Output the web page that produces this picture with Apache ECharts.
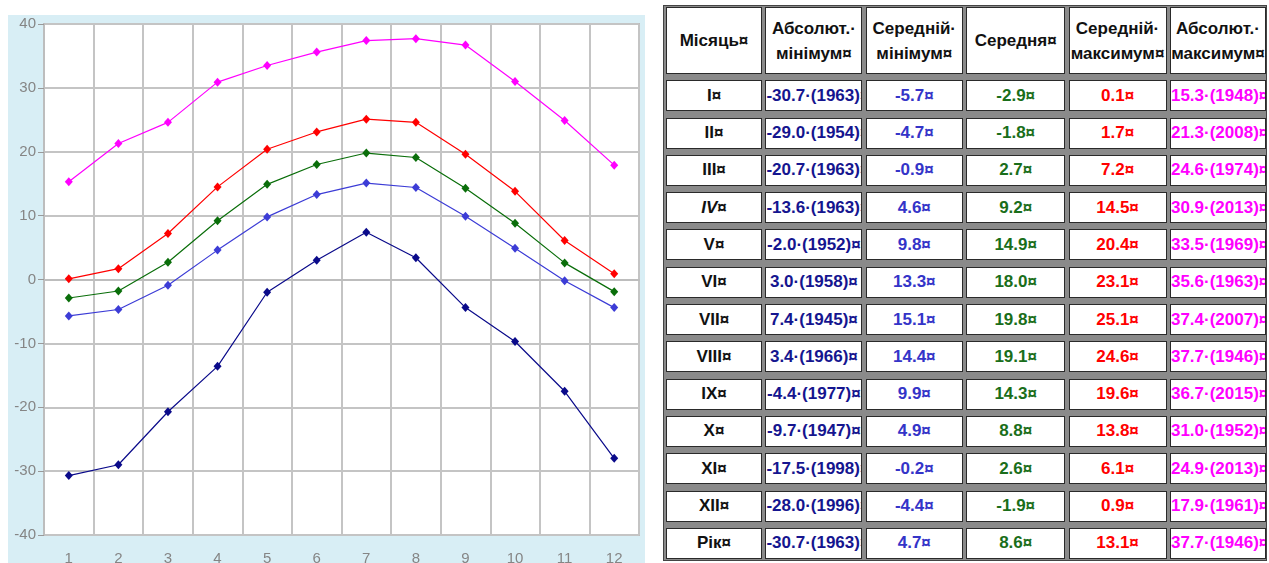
<!DOCTYPE html>
<html><head><meta charset="utf-8">
<script src="https://cdn.jsdelivr.net/npm/echarts@6/dist/echarts.min.js"></script>
<style>
html,body{margin:0;padding:0;background:#fff;width:1269px;height:563px;overflow:hidden;}
#chart{position:absolute;left:8px;top:15px;width:637px;height:548px;background:#d8eef5;}
#tbl{position:absolute;left:663px;top:5px;width:604px;height:556px;box-sizing:border-box;background:#8a8a8a;border:1px solid #444;padding:1px 0 0 2px;display:grid;grid-template-columns:96px 97px 97px 99px 98px 96px;column-gap:3.4px;grid-template-rows:67px repeat(13,31px);row-gap:6.3px;}
.c{background:#fff;border:1px solid #2a2a2a;box-sizing:border-box;display:flex;align-items:center;overflow:hidden;white-space:nowrap;font:bold 17px "Liberation Sans",Arial,sans-serif;}
.c span{margin:0 auto;text-align:center;}
.h{font-size:17px;line-height:25px;color:#111;}
</style></head><body>
<div id="chart"></div>
<div id="tbl"></div>
<script>
// ---- data ----
const months = ['1','2','3','4','5','6','7','8','9','10','11','12'];
const absMin = [-30.7,-29.0,-20.7,-13.6,-2.0,3.0,7.4,3.4,-4.4,-9.7,-17.5,-28.0];
const avgMin = [-5.7,-4.7,-0.9,4.6,9.8,13.3,15.1,14.4,9.9,4.9,-0.2,-4.4];
const avgT   = [-2.9,-1.8,2.7,9.2,14.9,18.0,19.8,19.1,14.3,8.8,2.6,-1.9];
const avgMax = [0.1,1.7,7.2,14.5,20.4,23.1,25.1,24.6,19.6,13.8,6.1,0.9];
const absMax = [15.3,21.3,24.6,30.9,33.5,35.6,37.4,37.7,36.7,31.0,24.9,17.9];
const absMinYears = [1963,1954,1963,1963,1952,1958,1945,1966,1977,1947,1998,1996];
const absMaxYears = [1948,2008,1974,2013,1969,1963,2007,1946,2015,1952,2013,1961];
const rowNames = ['I','II','III','IV','V','VI','VII','VIII','IX','X','XI','XII'];
const yearRow = {name:'Рік', absMin:-30.7, absMinYear:1963, avgMin:4.7, avg:8.6, avgMax:13.1, absMax:37.7, absMaxYear:1946};
const headers = [['Місяць¤'],['Абсолют.·','мінімум¤'],['Середній·','мінімум¤'],['Середня¤'],['Середній·','максимум¤'],['Абсолют.·','максимум¤']];
const yTicks = {min:-40, max:40, interval:10};

// ---- chart ----
const chart = echarts.init(document.getElementById('chart'), null, {renderer:'canvas'});
const lbl = {color:'#858585', fontFamily:'Liberation Sans', fontSize:15};
function mk(name, data, color){
  return {name, type:'line', data, symbol:'diamond', symbolSize:[8,9],
    lineStyle:{color, width:1.2}, itemStyle:{color}, animation:false};
}
chart.setOption({
  animation:false,
  grid:{left:36, top:9, width:595, height:511, outerBoundsMode:'none', containLabel:false, show:true, backgroundColor:'#fff', borderColor:'#bdbdbd', borderWidth:2},
  xAxis:{type:'category', data:months, boundaryGap:true,
    axisLine:{lineStyle:{color:'#bdbdbd', width:2}},
    axisTick:{alignWithLabel:true, length:8, lineStyle:{color:'#999'}},
    axisLabel:Object.assign({margin:16}, lbl),
    splitLine:{show:true, lineStyle:{color:'#c4c4c4', width:2}}},
  yAxis:{type:'value', min:yTicks.min, max:yTicks.max, interval:yTicks.interval,
    axisLine:{show:true, lineStyle:{color:'#bdbdbd', width:2}},
    axisTick:{show:true, length:6, lineStyle:{color:'#999'}},
    axisLabel:Object.assign({margin:8}, lbl),
    splitLine:{show:true, lineStyle:{color:'#c4c4c4', width:2}}},
  series:[
    mk('absMax', absMax, '#ff00ff'),
    mk('avgMax', avgMax, '#ff0000'),
    mk('avg', avgT, '#0a6e0a'),
    mk('avgMin', avgMin, '#3c3cd6'),
    mk('absMin', absMin, '#0a0a8a')
  ]
});

// ---- table ----
const tbl = document.getElementById('tbl');
function cell(html, color, cls){
  const d = document.createElement('div');
  d.className = 'c' + (cls ? ' ' + cls : '');
  if (color) d.style.color = color;
  d.innerHTML = '<span>' + html + '</span>';
  tbl.appendChild(d);
}
const f1 = v => v.toFixed(1);
headers.forEach(h => cell(h.join('<br>'), '#111', 'h'));
const colColors = ['#111','#15158f','#3434c8','#1a6e1a','#ff0000','#ff00ff'];
function row(name, aMin, aMinY, mMin, m, mMax, aMax, aMaxY){
  cell(name, colColors[0]);
  cell(f1(aMin) + '·(' + aMinY + ')¤', colColors[1]);
  cell(f1(mMin) + '¤', colColors[2]);
  cell(f1(m) + '¤', colColors[3]);
  cell(f1(mMax) + '¤', colColors[4]);
  cell(f1(aMax) + '·(' + aMaxY + ')¤', colColors[5]);
}
rowNames.forEach((n, i) => {
  const nm = n === 'IV' ? '<i>IV</i>¤' : n + '¤';
  row(nm, absMin[i], absMinYears[i], avgMin[i], avgT[i], avgMax[i], absMax[i], absMaxYears[i]);
});
row(yearRow.name + '¤', yearRow.absMin, yearRow.absMinYear, yearRow.avgMin, yearRow.avg, yearRow.avgMax, yearRow.absMax, yearRow.absMaxYear);
</script>
</body></html>
